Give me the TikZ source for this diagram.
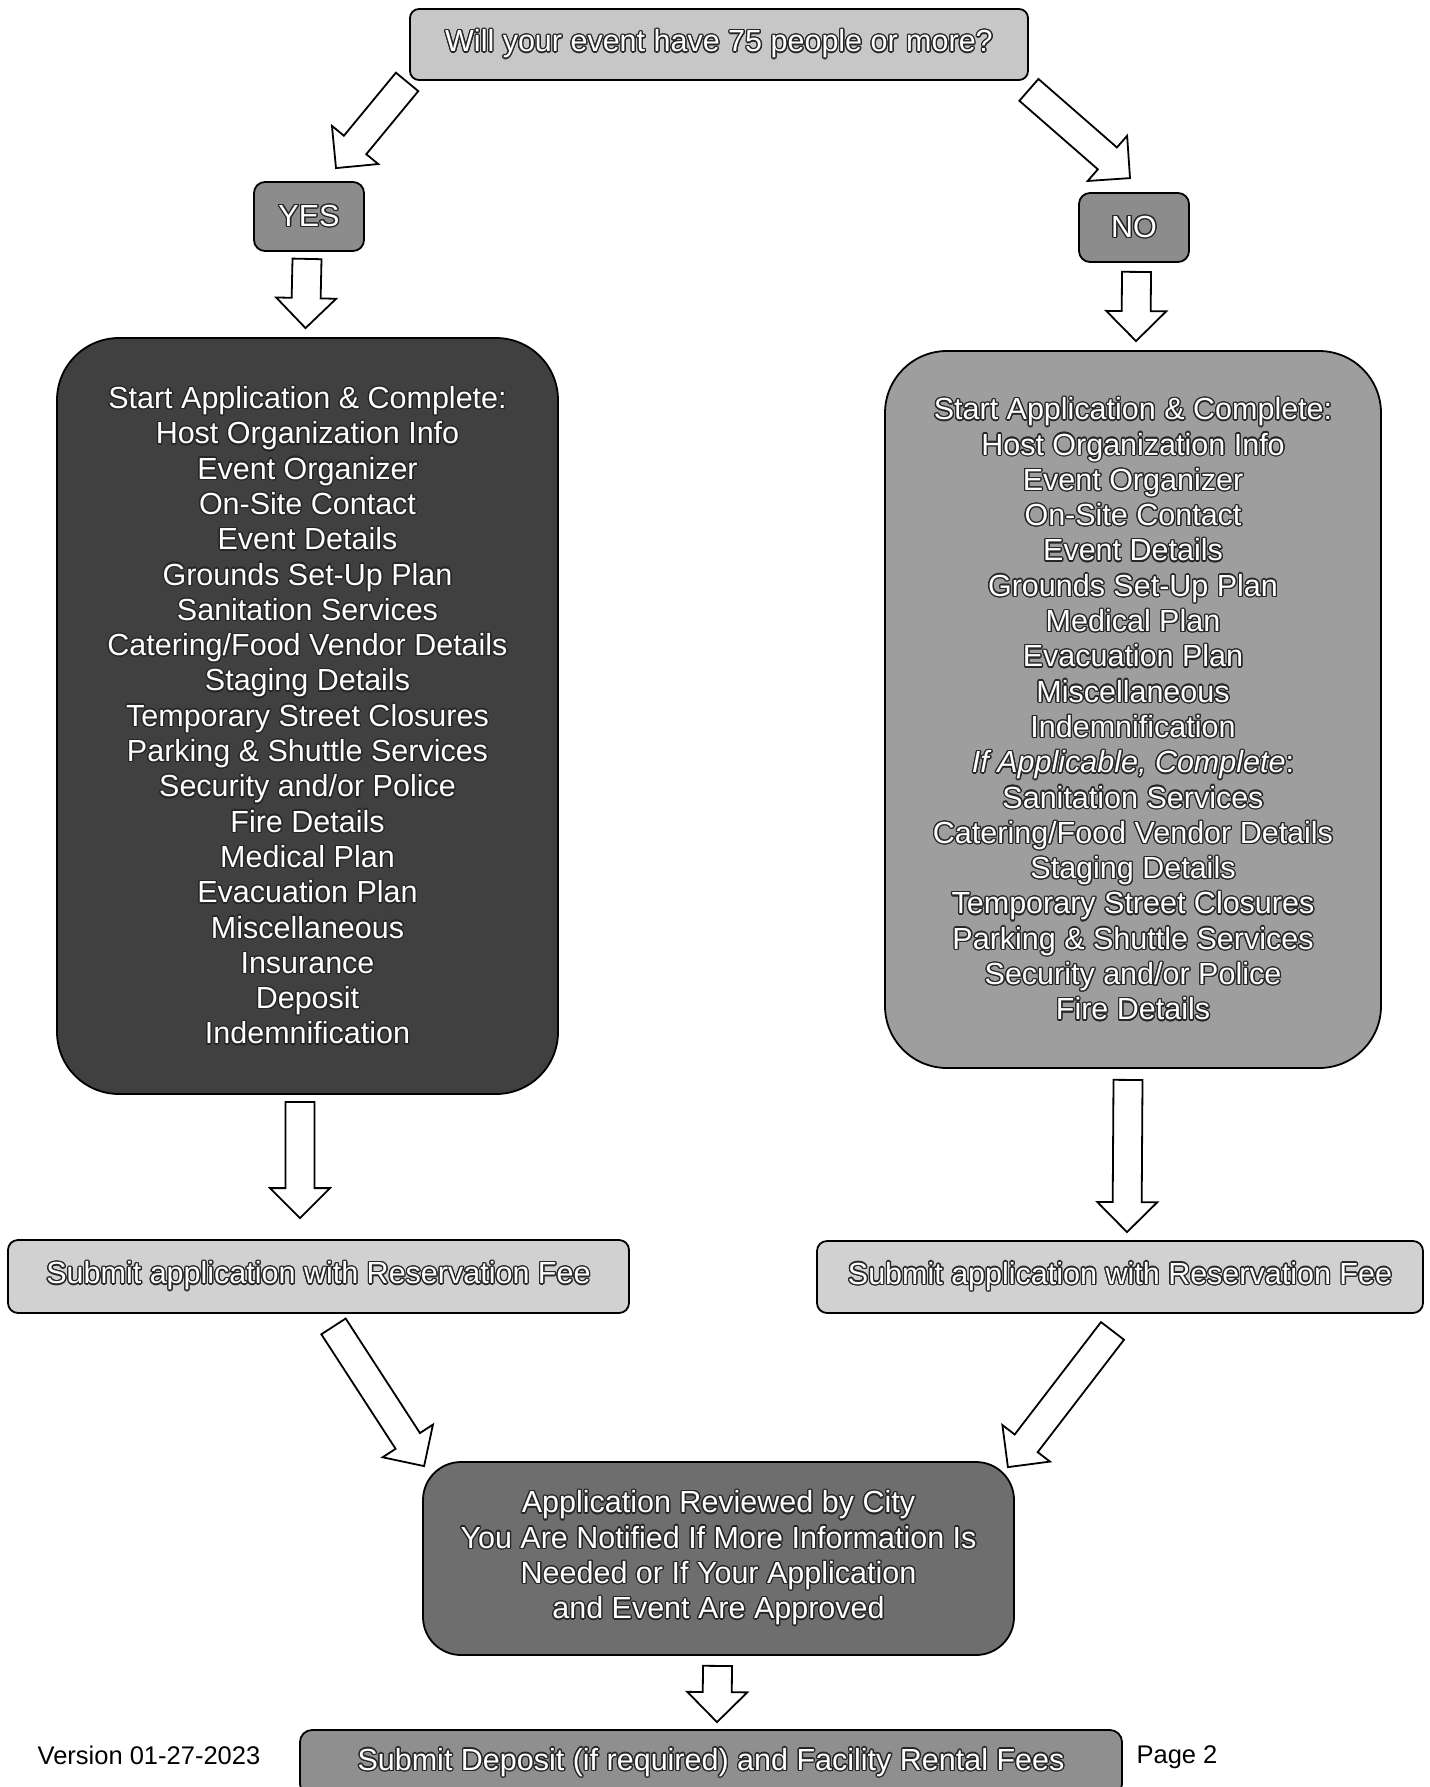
\documentclass[tikz,border=0pt]{standalone}
\usepackage{fontspec}
\setmainfont{Liberation Sans}
\usepackage{graphicx}
\usepackage{contour}
\contourlength{1.3pt}
\usepackage{tikz}
\usetikzlibrary{positioning, calc}

\definecolor{qgray}{gray}{0.78}
\definecolor{ansgray}{gray}{0.55}
\definecolor{longgray}{gray}{0.25}
\definecolor{shortgray}{gray}{0.62}
\definecolor{subgray}{gray}{0.82}
\definecolor{revgray}{gray}{0.43}
\definecolor{feegray}{gray}{0.56}

\newcommand{\glow}[1]{\contour{black!85}{#1}}
% hollow block arrow from #1 to #2
\newcommand{\hollowarrow}[2]{%
  \coordinate (ha-s) at #1;
  \coordinate (ha-e) at #2;
  \coordinate (ha-b) at ($(ha-e)!30pt!(ha-s)$);
  \draw[hollow] ($(ha-s)!14.5pt!90:(ha-e)$) -- ($(ha-b)!14.5pt!90:(ha-e)$) -- ($(ha-b)!30pt!90:(ha-e)$) -- (ha-e)
     -- ($(ha-b)!30pt!-90:(ha-e)$) -- ($(ha-b)!14.5pt!-90:(ha-e)$) -- ($(ha-s)!14.5pt!-90:(ha-e)$) -- cycle;
}

\begin{document}
\begin{tikzpicture}[x=1pt,y=1pt,yscale=-1,
    box/.style={draw=black, line width=1.8pt, rounded corners=#1, inner sep=0pt, align=center, text=white, font=\fontsize{30.5}{35.3}\selectfont},
    box/.default=10pt,
    hollow/.style={draw=black, fill=white, line width=1.8pt, line join=miter},
    note/.style={inner sep=0pt, font=\fontsize{25.5}{30}\selectfont}]

    \useasboundingbox (0,0) rectangle (1429,1787);
    \clip (0,0) rectangle (1429,1787);

    % question and answers
    \node[box=9pt, fill=qgray, minimum width=618pt, minimum height=71pt] (q) at (719,44.5) {\glow{Will your event have 75 people or more?}};
    \node[box=11pt, fill=ansgray, minimum width=110pt, minimum height=69pt] (yes) at (309,216.5) {\glow{YES}};
    \node[box=11pt, fill=ansgray, minimum width=110pt, minimum height=69pt] (no) at (1134,227.5) {\glow{NO}};

    % checklists
    \node[box=62pt, fill=longgray, minimum width=501pt, minimum height=756pt] (longlist) at (307.5,716) {%
      \glow{Start Application \& Complete:}\\ \glow{Host Organization Info}\\ \glow{Event Organizer}\\
      \glow{On-Site Contact}\\ \glow{Event Details}\\ \glow{Grounds Set-Up Plan}\\ \glow{Sanitation Services}\\
      \glow{Catering/Food Vendor Details}\\ \glow{Staging Details}\\ \glow{Temporary Street Closures}\\
      \glow{Parking \& Shuttle Services}\\ \glow{Security and/or Police}\\ \glow{Fire Details}\\
      \glow{Medical Plan}\\ \glow{Evacuation Plan}\\ \glow{Miscellaneous}\\ \glow{Insurance}\\
      \glow{Deposit}\\ \glow{Indemnification}};
    \node[box=62pt, fill=shortgray, minimum width=496pt, minimum height=717pt] (shortlist) at (1133,709.5) {%
      \glow{Start Application \& Complete:}\\ \glow{Host Organization Info}\\ \glow{Event Organizer}\\
      \glow{On-Site Contact}\\ \glow{Event Details}\\ \glow{Grounds Set-Up Plan}\\ \glow{Medical Plan}\\
      \glow{Evacuation Plan}\\ \glow{Miscellaneous}\\ \glow{Indemnification}\\
      \glow{\textit{If Applicable, Complete}:}\\ \glow{Sanitation Services}\\
      \glow{Catering/Food Vendor Details}\\ \glow{Staging Details}\\ \glow{Temporary Street Closures}\\
      \glow{Parking \& Shuttle Services}\\ \glow{Security and/or Police}\\ \glow{Fire Details}};

    % submit, review, fees
    \node[box=10pt, fill=subgray, minimum width=621pt, minimum height=73pt] (subL) at (318.5,1276.5) {\glow{Submit application with Reservation Fee}};
    \node[box=10pt, fill=subgray, minimum width=606pt, minimum height=72pt] (subR) at (1120,1277) {\glow{Submit application with Reservation Fee}};
    \node[box=38pt, fill=revgray, minimum width=591pt, minimum height=193pt] (review) at (718.5,1558.5) {%
      \glow{Application Reviewed by City}\\ \glow{You Are Notified If More Information Is}\\
      \glow{Needed or If Your Application}\\ \glow{and Event Are Approved}};
    \node[box=12pt, fill=feegray, minimum width=822pt, minimum height=66pt] (fees) at (711,1763) {\glow{Submit Deposit (if required) and Facility Rental Fees}};

    \node[note] (version) at (149,1755) {Version 01-27-2023};
    \node[note] (page) at (1177,1757) {Page 2};

    % arrows
    \hollowarrow{($(q.south west)+(-2,1)$)}{($(yes.north)+(27,-13)$)}
    \hollowarrow{($(q.south east)+(0,9)$)}{($(no.north)+(-4,-14)$)}
    \hollowarrow{($(yes.south)+(-2,7)$)}{($(longlist.north)+(-2,-9)$)}
    \hollowarrow{($(no.south)+(2.5,9)$)}{($(shortlist.north)+(3,-9)$)}
    \hollowarrow{($(longlist.south)+(-7.5,7)$)}{($(subL.north)+(-18.5,-21)$)}
    \hollowarrow{($(shortlist.south)+(-5,11)$)}{($(subR.north)+(7,-8)$)}
    \hollowarrow{($(subL.south)+(15,12.5)$)}{($(review.north west)+(2,5)$)}
    \hollowarrow{($(subR.south)+(-7.5,17)$)}{($(review.north east)+(-7,6)$)}
    \hollowarrow{($(review.south)+(-1,10)$)}{($(fees.north)+(6,-7)$)}
\end{tikzpicture}
\end{document}
